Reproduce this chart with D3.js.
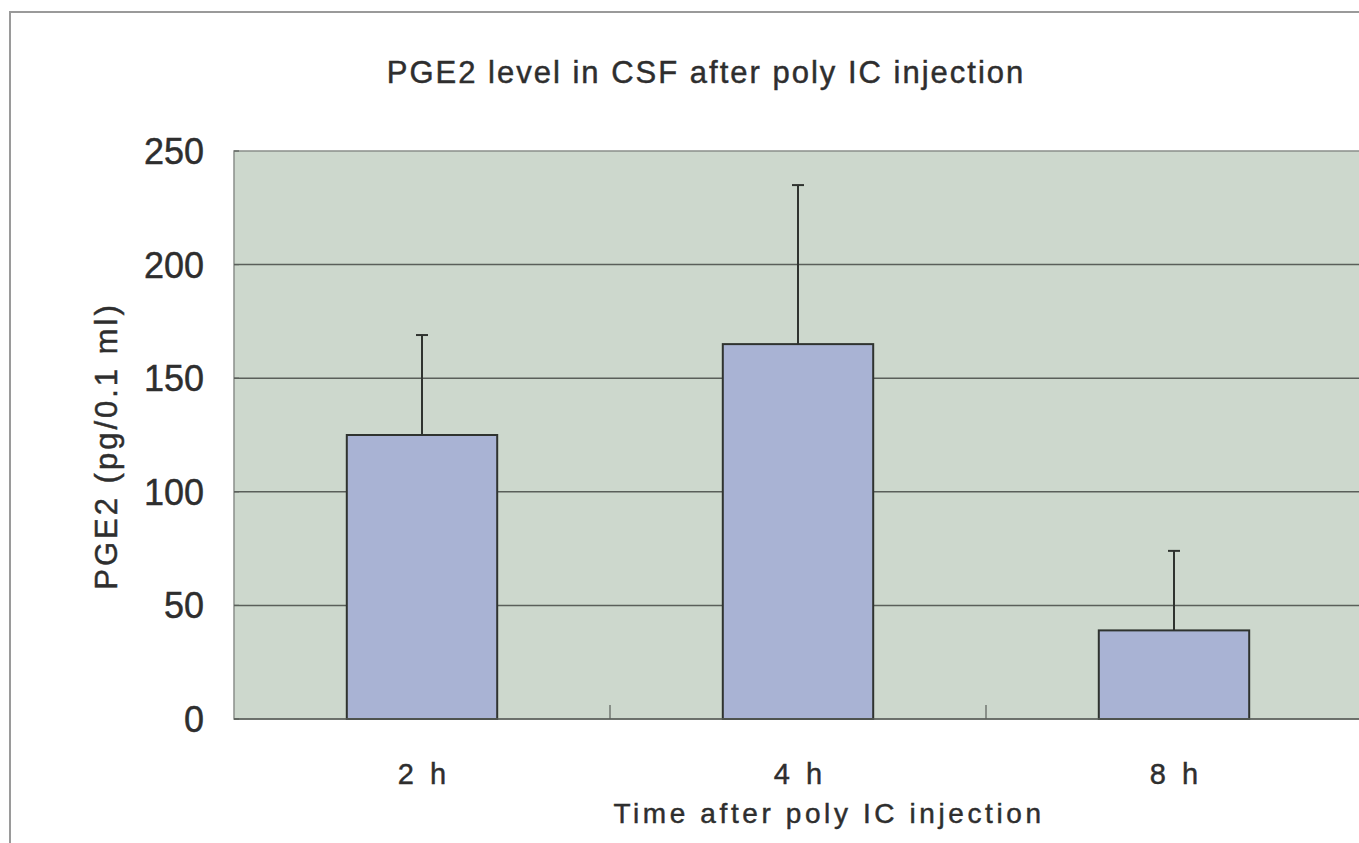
<!DOCTYPE html>
<meta charset="utf-8">
<head>
<style>
  body { margin: 0; background: #fff; }
  svg { display: block; }
  text { font-family: "Liberation Sans", Arial, sans-serif; fill: #2e2e2e; stroke: #2e2e2e; stroke-width: 0.45px; }
  .tick-label { font-size: 36px; }
  .cat-label { font-size: 29px; letter-spacing: 4px; }
  .title { font-size: 31px; letter-spacing: 2px; }
  .axis-title { font-size: 28px; letter-spacing: 3.6px; }
  .y-title { font-size: 31px; letter-spacing: 3px; }
</style>
<script src="https://d3js.org/d3.v7.min.js"></script>
</head>
<body>
<svg width="1359" height="843"></svg>
<script>
// data
var categories = ["2 h", "4 h", "8 h"];
var means = [125, 165, 39];
var errors = [44, 70, 35];   // upper SD only
var yTicks = [0, 50, 100, 150, 200, 250];

var svg = d3.select("svg"),
    width = +svg.attr("width"),
    height = +svg.attr("height");

// plot area (runs a little past the right edge, like the scan)
var plot = {left: 234, top: 151, right: 1362, bottom: 719};

// outer chart frame
svg.append("path")
    .attr("d", "M" + (width + 5) + ",12 H10 V" + (height + 5))
    .attr("fill", "none")
    .attr("stroke", "#9a9a9a")
    .attr("stroke-width", 2);

var x = d3.scaleBand()
    .domain(categories)
    .range([plot.left, plot.right])
    .paddingInner(0.6)
    .paddingOuter(0.3);

var y = d3.scaleLinear()
    .domain([0, 250])
    .range([plot.bottom, plot.top]);

// plot background
svg.append("rect")
    .attr("x", plot.left)
    .attr("y", plot.top)
    .attr("width", plot.right - plot.left)
    .attr("height", plot.bottom - plot.top)
    .attr("fill", "#cdd8cd")
    .attr("stroke", "#8a8f8a")
    .attr("stroke-width", 1.5);

// gridlines
svg.append("g")
    .selectAll("line")
    .data(yTicks.filter(function(d) { return d > 0 && d < 250; }))
    .enter().append("line")
    .attr("x1", plot.left)
    .attr("x2", plot.right)
    .attr("y1", function(d) { return y(d); })
    .attr("y2", function(d) { return y(d); })
    .attr("stroke", "#5a5f5a")
    .attr("stroke-width", 1.5);

// y tick labels
svg.append("g")
    .selectAll("text")
    .data(yTicks)
    .enter().append("text")
    .attr("class", "tick-label")
    .attr("x", 204)
    .attr("y", function(d) { return y(d); })
    .attr("dy", "0.36em")
    .attr("text-anchor", "end")
    .text(function(d) { return d; });

// y axis small inside ticks
svg.append("g")
    .selectAll("line")
    .data(yTicks)
    .enter().append("line")
    .attr("x1", plot.left)
    .attr("x2", plot.left + 5)
    .attr("y1", function(d) { return y(d); })
    .attr("y2", function(d) { return y(d); })
    .attr("stroke", "#5a5f5a")
    .attr("stroke-width", 1.2);

// x tick marks between categories
var step = x.step();
svg.append("g")
    .selectAll("line")
    .data(categories.slice(1))
    .enter().append("line")
    .attr("x1", function(d) { return x(d) + x.bandwidth() / 2 - step / 2; })
    .attr("x2", function(d) { return x(d) + x.bandwidth() / 2 - step / 2; })
    .attr("y1", plot.bottom)
    .attr("y2", plot.bottom - 14)
    .attr("stroke", "#5a5f5a")
    .attr("stroke-width", 1.2);

// error bars (upper only)
var eb = svg.append("g");
categories.forEach(function(c, i) {
    var cx = x(c) + x.bandwidth() / 2;
    eb.append("line")
        .attr("x1", cx).attr("x2", cx)
        .attr("y1", y(means[i]))
        .attr("y2", y(means[i] + errors[i]))
        .attr("stroke", "#2f332f")
        .attr("stroke-width", 2);
    eb.append("line")
        .attr("x1", cx - 6).attr("x2", cx + 6)
        .attr("y1", y(means[i] + errors[i]))
        .attr("y2", y(means[i] + errors[i]))
        .attr("stroke", "#2f332f")
        .attr("stroke-width", 2);
});

// bars
svg.append("g")
    .selectAll("rect")
    .data(categories)
    .enter().append("rect")
    .attr("x", function(d) { return x(d); })
    .attr("y", function(d, i) { return y(means[i]); })
    .attr("width", x.bandwidth())
    .attr("height", function(d, i) { return y(0) - y(means[i]); })
    .attr("fill", "#a9b3d4")
    .attr("stroke", "#2f332f")
    .attr("stroke-width", 2);

// bottom axis line
svg.append("line")
    .attr("x1", plot.left).attr("x2", plot.right)
    .attr("y1", plot.bottom).attr("y2", plot.bottom)
    .attr("stroke", "#5a5f5a")
    .attr("stroke-width", 1.5);

// category labels
svg.append("g")
    .selectAll("text")
    .data(categories)
    .enter().append("text")
    .attr("class", "cat-label")
    .attr("x", function(d) { return x(d) + x.bandwidth() / 2 + 2; })
    .attr("y", 784)
    .attr("text-anchor", "middle")
    .text(function(d) { return d; });

// titles
svg.append("text")
    .attr("class", "title")
    .attr("x", 706)
    .attr("y", 83)
    .attr("text-anchor", "middle")
    .text("PGE2 level in CSF after poly IC injection");

svg.append("text")
    .attr("class", "axis-title")
    .attr("x", 829)
    .attr("y", 823)
    .attr("text-anchor", "middle")
    .text("Time after poly IC injection");

svg.append("text")
    .attr("class", "y-title")
    .attr("transform", "translate(117,446) rotate(-90)")
    .attr("text-anchor", "middle")
    .text("PGE2 (pg/0.1 ml)");
</script>
</body>
